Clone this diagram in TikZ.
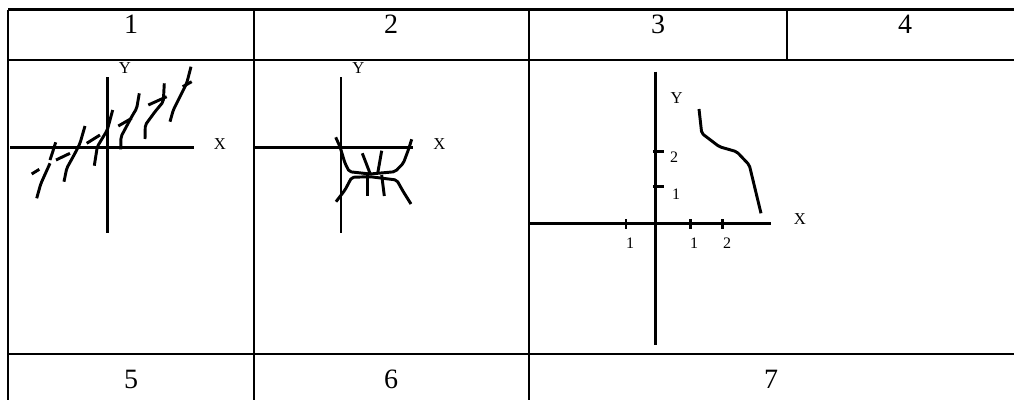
\documentclass[tikz,border=0pt]{standalone}
\usepackage{fontspec}
\setmainfont{Liberation Serif}
\begin{document}
\begin{tikzpicture}[x=0.75pt,y=-0.75pt,line width=2.2pt,
  curve/.style={line join=round,rounded corners=1.5pt},
  big/.style={font=\fontsize{21}{25}\selectfont,anchor=base},
  small/.style={font=\fontsize{12.5}{15}\selectfont},
  tick/.style={font=\fontsize{12}{14}\selectfont}]
\useasboundingbox (0,0) rectangle (1014,400);
% table
\draw (8,9.5) -- (1014,9.5);
\draw (8,60) -- (1014,60);
\draw (8,354) -- (1014,354);
\draw (8,9.5) -- (8,400);
\draw (254,9.5) -- (254,400);
\draw (529,9.5) -- (529,400);
\draw (787,9.5) -- (787,60);
\node[big] (h1) at (131,33) {1};
\node[big] (h2) at (391,33) {2};
\node[big] (h3) at (658,33) {3};
\node[big] (h4) at (905,33) {4};
\node[big] (f5) at (131,388) {5};
\node[big] (f6) at (391,388) {6};
\node[big] (f7) at (771,388) {7};
% panel 1
\draw (107.3,77.3) -- (107.3,233);
\draw (10,147.3) -- (194,147.3);
\node[small] (x1) at (220,144) {X};
\node[small] (y1) at (125,68) {Y};
\draw[curve] (31.7,174) -- (39.3,169.3);
\draw[curve] (36.7,198.3) -- (40.7,184) -- (50,163.3);
\draw[curve] (50,160) -- (53.3,150) -- (55.7,142.3);
\draw[curve] (56,160) -- (70,153.3);
\draw[curve] (64,181.7) -- (66.7,168.3) -- (75,153.3) -- (80,143.3) -- (85,126);
\draw[curve] (86.7,143.3) -- (100,135);
\draw[curve] (94.3,165.7) -- (97.3,146.7) -- (103.3,136.7) -- (107.3,130) -- (112.7,110);
\draw[curve] (118.3,126) -- (131.7,118.3);
\draw[curve] (120.7,149.3) -- (121,136.7) -- (131.7,116.7) -- (136.7,108.3) -- (139.3,93.3);
\draw[curve] (145,139) -- (145.3,125) -- (155,111.7) -- (163.3,101.7) -- (164.3,83.3);
\draw[curve] (148.3,105) -- (166.7,96.7);
\draw[curve] (170,121.7) -- (173.3,110) -- (181.7,93.3) -- (186.7,83.3) -- (191,66.7);
\draw[curve] (182.7,86.7) -- (191.7,81.7);
% panel 2
\draw (341,77.3) -- (341,233);
\draw (254,147.3) -- (413.3,147.3);
\node[small] (x2) at (439.3,144) {X};
\node[small] (y2) at (358.3,68) {Y};
\draw[curve] (335.7,137.3) -- (340,146.7) -- (345,163.3) -- (349.3,171.7) -- (370,174)
  -- (395,171.7) -- (403.3,163.3) -- (408.3,150) -- (411.7,139.3);
\draw[curve] (336,201.7) -- (345,190) -- (351.7,177.3) -- (370,176.7) -- (396.7,180)
  -- (403.3,191.7) -- (411,204);
\draw[curve] (362.3,153.3) -- (370,173.3);
\draw[curve] (381.7,150.7) -- (377.7,173.3);
\draw[curve] (367.7,175) -- (367.7,196);
\draw[curve] (381.7,175) -- (384.3,196);
% panel 3
\draw (655.7,71.7) -- (655.7,345);
\draw (529,223.7) -- (770.7,223.7);
\node[small] (x3) at (800,219.3) {X};
\node[small] (y3) at (676.7,98.3) {Y};
\draw (653.3,151.7) -- (664,151.7);
\draw (653.3,186.7) -- (664,186.7);
\node[tick] (ty2) at (674,157.3) {2};
\node[tick] (ty1) at (676,194) {1};
\foreach \tx/\lab/\lx in {626/1/630,690.7/1/694,722.7/2/727}{
  \draw (\tx,219.3) -- (\tx,229.3);
  \node[tick] (tx\lx) at (\lx,243.3) {\lab};
}
\draw[curve] (699,109) -- (701.7,133.3) -- (719.3,146.7) -- (736.7,151.7) -- (749.3,165) -- (761,213.3);
\end{tikzpicture}
\end{document}
